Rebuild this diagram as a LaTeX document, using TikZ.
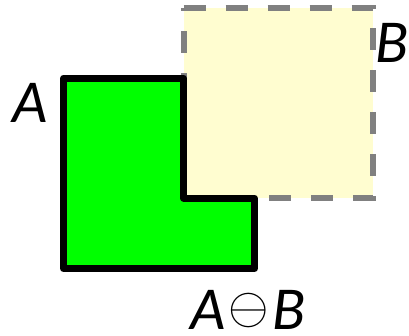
\documentclass[tikz,border=0pt]{standalone}
\usepackage{graphicx}
\usepackage{fontspec}
\setmainfont{Carlito}
\definecolor{setgreen}{RGB}{0,255,0}
\definecolor{setcream}{RGB}{255,253,208}
\definecolor{setgray}{RGB}{128,128,128}
% thin-stroked circled minus, sized to the capital letters of the labels
\newcommand{\bigominus}{{\fontsize{10}{12}\selectfont\raisebox{5.5pt}{\scalebox{5.2}{$\ominus$}}}}
\begin{document}
\begin{tikzpicture}[x=1pt,y=-1pt,
  setlabel/.style={font=\fontsize{61}{64}\selectfont\itshape, inner sep=0pt, anchor=base},
  probe/.style={fill=setcream, draw=setgray, line width=6pt, dash pattern=on 22pt off 20pt},
  result/.style={fill=setgreen, draw=black, line width=7pt, line join=round}]
\useasboundingbox (0,0) rectangle (409,335);
% structuring set B
\coordinate (b1) at (183.5,7.5);
\coordinate (b2) at (373,7.5);
\coordinate (b3) at (373,197.5);
\coordinate (b4) at (183.5,197.5);
\draw[probe] (b1) -- (b2) -- (b3) -- (b4) -- cycle;
% A minus B: an L-shaped region
\coordinate (a1) at (63.5,78);
\coordinate (a2) at (183.5,78);
\coordinate (a3) at (183.5,198);
\coordinate (a4) at (254.5,198);
\coordinate (a5) at (254.5,268.5);
\coordinate (a6) at (63.5,268.5);
\draw[result] (a1) -- (a2) -- (a3) -- (a4) -- (a5) -- (a6) -- cycle;
% labels
\node[setlabel] (la) at (30.5,122) {A};
\node[setlabel] (lb) at (392.5,62) {B};
\node[setlabel] (lab) at (248,329) {A\kern3pt\bigominus\kern4pt B};
\end{tikzpicture}
\end{document}
